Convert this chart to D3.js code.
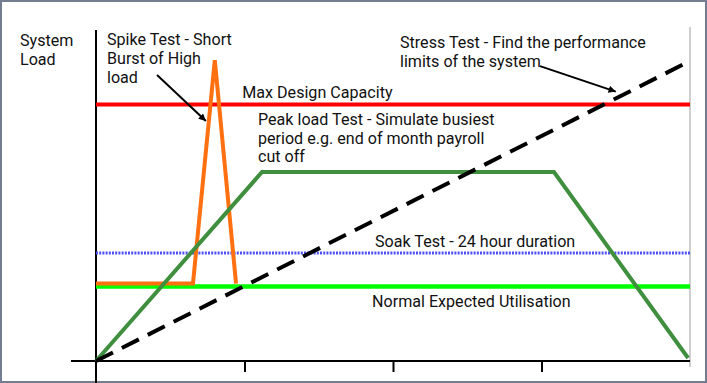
<!DOCTYPE html>
<html><head><meta charset="utf-8">
<script src="https://cdn.jsdelivr.net/npm/d3@7"></script>
<style>
html,body{margin:0;padding:0;background:#fff;}
svg{display:block;}
text{font-family:Roboto,"Noto Sans",sans-serif;font-size:16.1px;fill:#111;}
</style></head><body>
<script>
// x domain in "time units" 0..4, y domain load 0..100
const xTicks = [1, 2, 3];
const maxDesign = 85.5;
const soakLevel = 36;
const normalLevel = 24.8;
const spikeX = [0, 0.653, 0.80, 0.943];
const spikeY = [25.8, 25.8, 100.3, 25.8];
const peakX = [0, 1.118, 3.084, 3.987];
const peakY = [0, 63, 63, 1];
const stressX = [0, 4];
const stressY = [0, 100];
const yLabel = ["System", "Load"];
const labels = [
  {lines: ["Spike Test - Short", "Burst of High", "load"], x: 0.074, y: 105.2},
  {lines: ["Max Design Capacity"], x: 0.985, y: 87.7},
  {lines: ["Peak load Test - Simulate busiest", "period e.g. end of month payroll", "cut off"], x: 1.091, y: 78.7},
  {lines: ["Stress Test - Find the performance", "limits of the system"], x: 2.047, y: 104.3},
  {lines: ["Soak Test - 24 hour duration"], x: 1.879, y: 38},
  {lines: ["Normal Expected Utilisation"], x: 1.859, y: 18}
];
const arrows = [
  {from: [0.411, 95.3], to: [0.74, 80]},
  {from: [2.990, 98.3], to: [3.5, 89.8]}
];

const W = 707, H = 383;
const svg = d3.select("body").append("svg").attr("width", W).attr("height", H);
svg.append("rect").attr("x", 1).attr("y", 1).attr("width", W - 2).attr("height", H - 2)
  .attr("fill", "#fff").attr("stroke", "#737d92").attr("stroke-width", 2);

const x = d3.scaleLinear().domain([0, 4]).range([96, 690]);
const y = d3.scaleLinear().domain([0, 100]).range([361, 61]);

const defs = svg.append("defs");
defs.append("marker").attr("id", "ah").attr("viewBox", "0 0 10 10").attr("refX", 10).attr("refY", 5)
  .attr("markerWidth", 4.5).attr("markerHeight", 3.6).attr("markerUnits", "strokeWidth").attr("orient", "auto")
  .append("path").attr("d", "M0,0 L10,5 L0,10 z").attr("fill", "#000");

// right gray guide
svg.append("line").attr("x1", x(4)).attr("x2", x(4)).attr("y1", 27).attr("y2", 367)
  .attr("stroke", "#cfcfcf").attr("stroke-width", 2);

// axes
const xAxis = d3.axisBottom(x).tickValues(xTicks).tickSize(11).tickFormat("");
const gx = svg.append("g").attr("transform", `translate(0,${y(0)})`).call(xAxis);
gx.select(".domain").remove();
gx.selectAll(".tick line").attr("stroke", "#000").attr("stroke-width", 2);
svg.append("line").attr("x1", 71).attr("x2", x(4)).attr("y1", y(0)).attr("y2", y(0))
  .attr("stroke", "#000").attr("stroke-width", 2);
svg.append("line").attr("x1", x(0)).attr("x2", x(0)).attr("y1", 30).attr("y2", 383)
  .attr("stroke", "#000").attr("stroke-width", 2);

const line = d3.line().x(d => x(d[0])).y(d => y(d[1]));
function hline(v, color, w, dash) {
  const p = svg.append("path").datum([[0, v], [4, v]]).attr("d", line)
    .attr("stroke", color).attr("stroke-width", w).attr("fill", "none");
  if (dash) p.attr("stroke-dasharray", dash);
}
hline(maxDesign, "#ff0000", 4);
hline(soakLevel, "#5050f0", 3, "2,1.2");
hline(normalLevel, "#00ff00", 4.5);

svg.append("path").datum(spikeX.map((d, i) => [d, spikeY[i]])).attr("d", line)
  .attr("stroke", "#ff7010").attr("stroke-width", 4).attr("fill", "none").attr("stroke-linejoin", "miter");
svg.append("path").datum(peakX.map((d, i) => [d, peakY[i]])).attr("d", line)
  .attr("stroke", "#3f8f3f").attr("stroke-width", 4).attr("fill", "none");
svg.append("path").datum(stressX.map((d, i) => [d, stressY[i]])).attr("d", line)
  .attr("stroke", "#000").attr("stroke-width", 4).attr("fill", "none").attr("stroke-dasharray", "19,10");

arrows.forEach(a => {
  svg.append("line").attr("x1", x(a.from[0])).attr("y1", y(a.from[1]))
    .attr("x2", x(a.to[0])).attr("y2", y(a.to[1]))
    .attr("stroke", "#000").attr("stroke-width", 2).attr("marker-end", "url(#ah)");
});

// labels
labels.forEach(l => {
  const t = svg.append("text").attr("x", x(l.x)).attr("y", y(l.y));
  l.lines.forEach((s, i) => t.append("tspan").attr("x", x(l.x)).attr("dy", i ? 18.7 : 0).text(s));
});
const yl = svg.append("text").attr("x", 20).attr("y", 46);
yLabel.forEach((s, i) => yl.append("tspan").attr("x", 20).attr("dy", i ? 18.5 : 0).text(s));
</script>
</body></html>
